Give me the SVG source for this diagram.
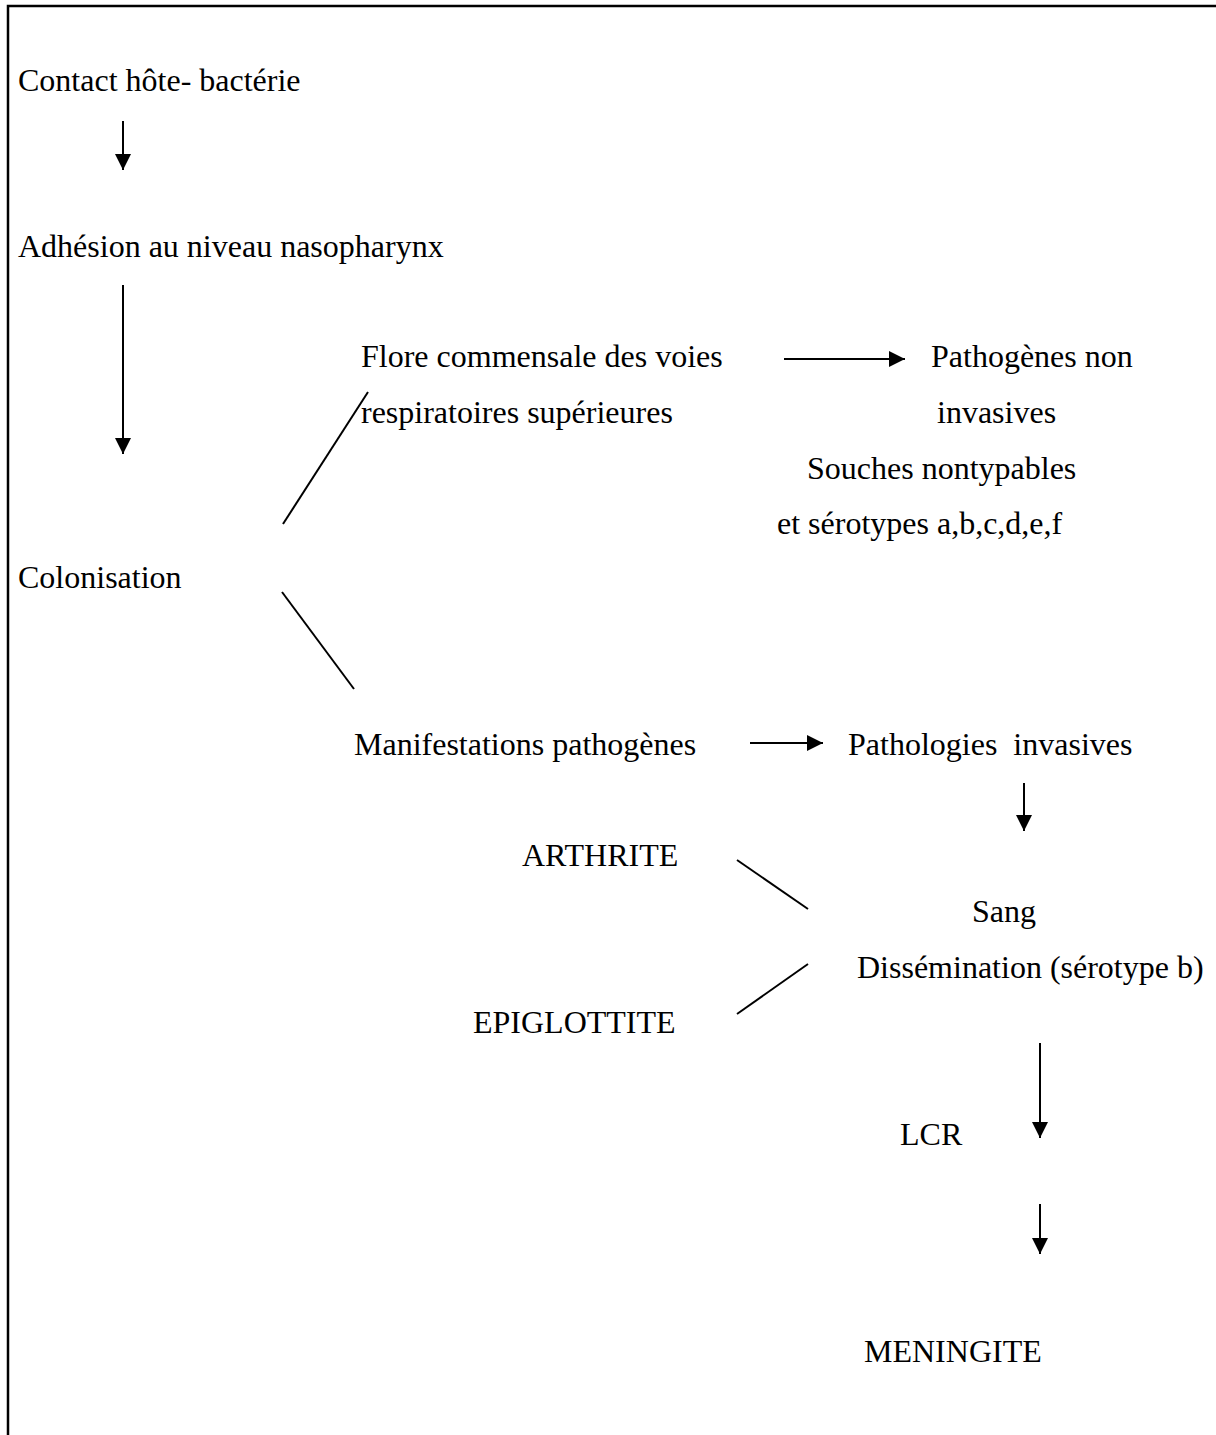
<svg xmlns="http://www.w3.org/2000/svg" width="1216" height="1435" viewBox="0 0 1216 1435">
<defs>
<style>
text{font-family:"Liberation Serif","Times New Roman",serif;font-size:32px;fill:#000}
.c{stroke:#000;stroke-width:2;fill:none}
.b{stroke:#000;stroke-width:2.5;fill:none}
</style>
<marker id="ah" viewBox="0 0 16 16" refX="16" refY="8" markerWidth="16" markerHeight="16" markerUnits="userSpaceOnUse" orient="auto"><path d="M0,0 L16,8 L0,16 Z" fill="#000"/></marker>
</defs>
<rect width="1216" height="1435" fill="#fff"/>
<g id="frame"><path class="b" d="M8,1435 V6 H1216"/></g>
<g id="n-contact"><text x="18" y="91">Contact hôte- bactérie</text></g>
<g id="n-adhesion"><text x="18" y="257">Adhésion au niveau nasopharynx</text></g>
<g id="n-flore"><text x="361" y="367">Flore commensale des voies</text><text x="361" y="423">respiratoires supérieures</text></g>
<g id="n-pathogenes"><text x="931" y="367">Pathogènes non</text><text x="937" y="423">invasives</text><text x="807" y="479">Souches nontypables</text><text x="777" y="534">et sérotypes a,b,c,d,e,f</text></g>
<g id="n-colonisation"><text x="18" y="588">Colonisation</text></g>
<g id="n-manifestations"><text x="354" y="755">Manifestations pathogènes</text></g>
<g id="n-pathologies"><text x="848" y="755" xml:space="preserve">Pathologies  invasives</text></g>
<g id="n-arthrite"><text x="522" y="866">ARTHRITE</text></g>
<g id="n-sang"><text x="972" y="922">Sang</text><text x="857" y="978">Dissémination (sérotype b)</text></g>
<g id="n-epiglottite"><text x="473" y="1033">EPIGLOTTITE</text></g>
<g id="n-lcr"><text x="900" y="1145">LCR</text></g>
<g id="n-meningite"><text x="864" y="1362">MENINGITE</text></g>
<g id="connectors">
<line class="c" x1="123" y1="121" x2="123" y2="170" marker-end="url(#ah)"/>
<line class="c" x1="123" y1="285" x2="123" y2="454" marker-end="url(#ah)"/>
<line class="c" x1="784" y1="359" x2="905" y2="359" marker-end="url(#ah)"/>
<line class="c" x1="283" y1="524" x2="368" y2="392"/>
<line class="c" x1="282" y1="592" x2="354" y2="689"/>
<line class="c" x1="750" y1="743" x2="823" y2="743" marker-end="url(#ah)"/>
<line class="c" x1="1024" y1="783" x2="1024" y2="831" marker-end="url(#ah)"/>
<line class="c" x1="737" y1="860" x2="808" y2="909"/>
<line class="c" x1="808" y1="964" x2="737" y2="1014"/>
<line class="c" x1="1040" y1="1043" x2="1040" y2="1138" marker-end="url(#ah)"/>
<line class="c" x1="1040" y1="1204" x2="1040" y2="1254" marker-end="url(#ah)"/>
</g>
</svg>
